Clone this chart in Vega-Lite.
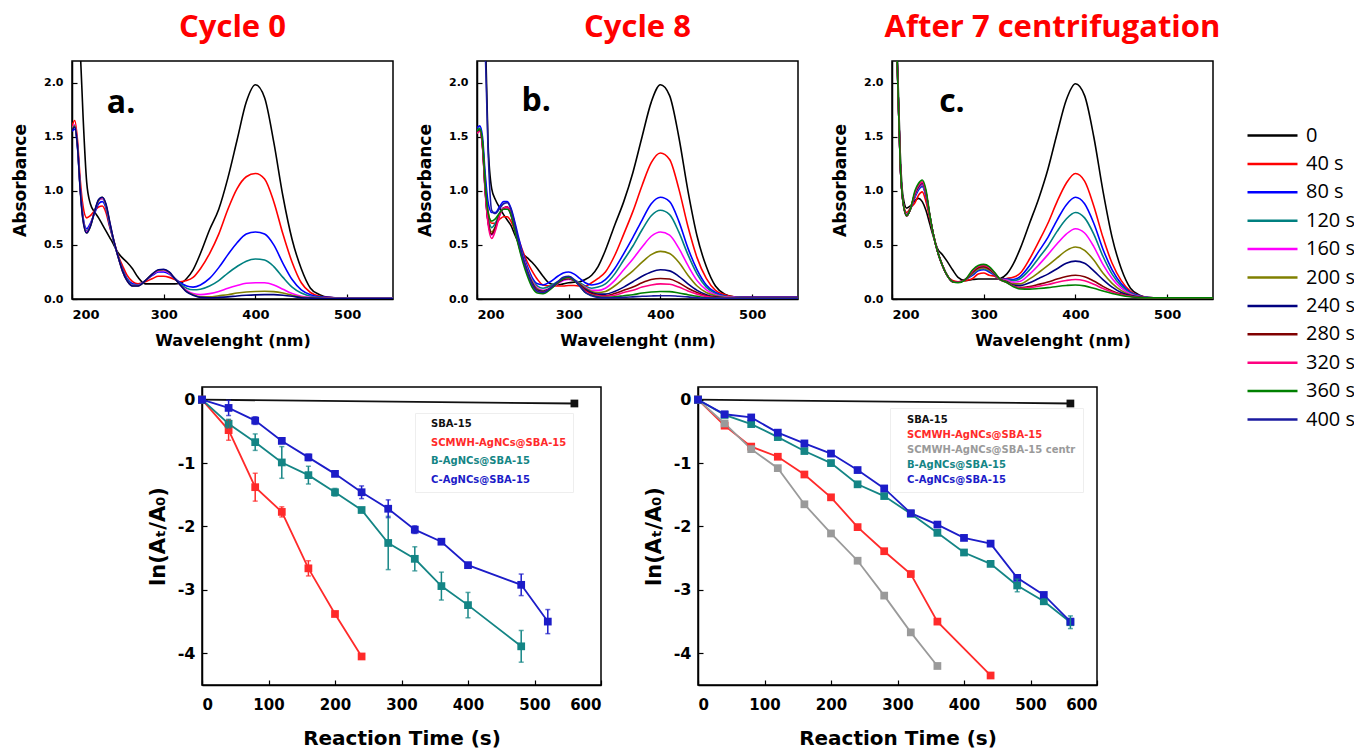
{
"$schema":"https://vega.github.io/schema/vega-lite/v6.json",
"background":"white",
"padding":{"left":10,"top":11,"right":0,"bottom":0},
"config":{"view":{"stroke":"black","strokeWidth":1.5},
"axis":{"grid":false,"tickSize":-5,"tickColor":"black","tickWidth":1.2,"domainColor":"black","domainWidth":1.5,"labelColor":"black","titleColor":"black","labelFont":"DejaVu Sans","labelFontWeight":"bold","titleFont":"DejaVu Sans","titleFontWeight":"bold"},
"legend":{"labelLimit":400}},
"datasets":{
"a":[
{"w":200,"0":3.2,"40 s":1.6,"80 s":1.55,"120 s":1.57,"160 s":1.58,"200 s":1.57,"240 s":1.56},
{"w":203,"0":3.0,"40 s":1.65,"80 s":1.57,"120 s":1.6,"160 s":1.61,"200 s":1.6,"240 s":1.59},
{"w":206,"0":2.7,"40 s":1.47,"80 s":1.4,"120 s":1.42,"160 s":1.43,"200 s":1.42,"240 s":1.41},
{"w":209,"0":2.3,"40 s":1.1,"80 s":1.02,"120 s":1.02,"160 s":1.02,"200 s":1.01,"240 s":1.0},
{"w":212,"0":1.7,"40 s":0.86,"80 s":0.76,"120 s":0.75,"160 s":0.74,"200 s":0.73,"240 s":0.73},
{"w":216,"0":1.08,"40 s":0.75,"80 s":0.65,"120 s":0.63,"160 s":0.62,"200 s":0.61,"240 s":0.61},
{"w":220,"0":0.88,"40 s":0.77,"80 s":0.7,"120 s":0.68,"160 s":0.68,"200 s":0.67,"240 s":0.67},
{"w":225,"0":0.8,"40 s":0.82,"80 s":0.8,"120 s":0.82,"160 s":0.82,"200 s":0.82,"240 s":0.82},
{"w":229,"0":0.75,"40 s":0.85,"80 s":0.88,"120 s":0.91,"160 s":0.91,"200 s":0.91,"240 s":0.92},
{"w":233,"0":0.69,"40 s":0.86,"80 s":0.9,"120 s":0.93,"160 s":0.93,"200 s":0.94,"240 s":0.94},
{"w":237,"0":0.63,"40 s":0.8,"80 s":0.84,"120 s":0.86,"160 s":0.87,"200 s":0.87,"240 s":0.88},
{"w":241,"0":0.57,"40 s":0.67,"80 s":0.68,"120 s":0.7,"160 s":0.71,"200 s":0.71,"240 s":0.72},
{"w":245,"0":0.51,"40 s":0.55,"80 s":0.55,"120 s":0.55,"160 s":0.56,"200 s":0.56,"240 s":0.56},
{"w":250,"0":0.43,"40 s":0.41,"80 s":0.4,"120 s":0.4,"160 s":0.4,"200 s":0.4,"240 s":0.4},
{"w":255,"0":0.38,"40 s":0.31,"80 s":0.28,"120 s":0.27,"160 s":0.26,"200 s":0.26,"240 s":0.26},
{"w":260,"0":0.34,"40 s":0.22,"80 s":0.19,"120 s":0.18,"160 s":0.17,"200 s":0.17,"240 s":0.17},
{"w":266,"0":0.28,"40 s":0.16,"80 s":0.14,"120 s":0.13,"160 s":0.125,"200 s":0.12,"240 s":0.12},
{"w":272,"0":0.2,"40 s":0.14,"80 s":0.13,"120 s":0.13,"160 s":0.125,"200 s":0.12,"240 s":0.12},
{"w":280,"0":0.14,"40 s":0.16,"80 s":0.17,"120 s":0.17,"160 s":0.17,"200 s":0.17,"240 s":0.17},
{"w":288,"0":0.14,"40 s":0.19,"80 s":0.22,"120 s":0.23,"160 s":0.23,"200 s":0.235,"240 s":0.235},
{"w":294,"0":0.14,"40 s":0.21,"80 s":0.25,"120 s":0.26,"160 s":0.26,"200 s":0.265,"240 s":0.27},
{"w":300,"0":0.14,"40 s":0.21,"80 s":0.25,"120 s":0.27,"160 s":0.265,"200 s":0.27,"240 s":0.275},
{"w":306,"0":0.14,"40 s":0.2,"80 s":0.23,"120 s":0.24,"160 s":0.24,"200 s":0.245,"240 s":0.25},
{"w":312,"0":0.14,"40 s":0.18,"80 s":0.19,"120 s":0.19,"160 s":0.19,"200 s":0.19,"240 s":0.19},
{"w":318,"0":0.145,"40 s":0.16,"80 s":0.15,"120 s":0.14,"160 s":0.13,"200 s":0.13,"240 s":0.13},
{"w":325,"0":0.19,"40 s":0.17,"80 s":0.12,"120 s":0.1,"160 s":0.08,"200 s":0.07,"240 s":0.065},
{"w":332,"0":0.27,"40 s":0.2,"80 s":0.11,"120 s":0.085,"160 s":0.05,"200 s":0.04,"240 s":0.035},
{"w":340,"0":0.42,"40 s":0.28,"80 s":0.13,"120 s":0.09,"160 s":0.04,"200 s":0.02,"240 s":0.015},
{"w":350,"0":0.64,"40 s":0.42,"80 s":0.19,"120 s":0.12,"160 s":0.05,"200 s":0.02,"240 s":0.012},
{"w":360,"0":0.83,"40 s":0.6,"80 s":0.29,"120 s":0.17,"160 s":0.07,"200 s":0.03,"240 s":0.015},
{"w":370,"0":1.12,"40 s":0.83,"80 s":0.41,"120 s":0.24,"160 s":0.1,"200 s":0.04,"240 s":0.02},
{"w":380,"0":1.47,"40 s":1.02,"80 s":0.52,"120 s":0.3,"160 s":0.125,"200 s":0.055,"240 s":0.028},
{"w":390,"0":1.82,"40 s":1.13,"80 s":0.6,"120 s":0.35,"160 s":0.145,"200 s":0.065,"240 s":0.034},
{"w":400,"0":1.98,"40 s":1.16,"80 s":0.62,"120 s":0.37,"160 s":0.15,"200 s":0.07,"240 s":0.038},
{"w":410,"0":1.86,"40 s":1.11,"80 s":0.6,"120 s":0.36,"160 s":0.15,"200 s":0.072,"240 s":0.04},
{"w":420,"0":1.45,"40 s":0.9,"80 s":0.5,"120 s":0.3,"160 s":0.13,"200 s":0.068,"240 s":0.04},
{"w":430,"0":0.95,"40 s":0.6,"80 s":0.33,"120 s":0.2,"160 s":0.09,"200 s":0.055,"240 s":0.035},
{"w":440,"0":0.55,"40 s":0.34,"80 s":0.18,"120 s":0.11,"160 s":0.05,"200 s":0.035,"240 s":0.025},
{"w":450,"0":0.28,"40 s":0.15,"80 s":0.085,"120 s":0.055,"160 s":0.025,"200 s":0.018,"240 s":0.012},
{"w":460,"0":0.1,"40 s":0.06,"80 s":0.04,"120 s":0.025,"160 s":0.015,"200 s":0.01,"240 s":0.008},
{"w":470,"0":0.04,"40 s":0.025,"80 s":0.02,"120 s":0.015,"160 s":0.01,"200 s":0.008,"240 s":0.006},
{"w":480,"0":0.015,"40 s":0.015,"80 s":0.015,"120 s":0.01,"160 s":0.008,"200 s":0.006,"240 s":0.005},
{"w":490,"0":0.01,"40 s":0.01,"80 s":0.01,"120 s":0.01,"160 s":0.007,"200 s":0.005,"240 s":0.005},
{"w":500,"0":0.01,"40 s":0.01,"80 s":0.01,"120 s":0.01,"160 s":0.007,"200 s":0.005,"240 s":0.005},
{"w":525,"0":0.01,"40 s":0.01,"80 s":0.01,"120 s":0.01,"160 s":0.007,"200 s":0.005,"240 s":0.005},
{"w":550,"0":0.01,"40 s":0.01,"80 s":0.01,"120 s":0.01,"160 s":0.007,"200 s":0.005,"240 s":0.005}
],
"b":[
{"w":200,"0":3.2,"40 s":1.56,"80 s":1.58,"120 s":1.56,"160 s":1.55,"200 s":1.55,"240 s":1.55,"280 s":1.54,"320 s":1.53,"360 s":1.55,"400 s":3.0},
{"w":203,"0":3.1,"40 s":1.57,"80 s":1.6,"120 s":1.58,"160 s":1.56,"200 s":1.56,"240 s":1.56,"280 s":1.55,"320 s":1.55,"360 s":1.57,"400 s":2.9},
{"w":206,"0":2.9,"40 s":1.45,"80 s":1.5,"120 s":1.45,"160 s":1.42,"200 s":1.43,"240 s":1.42,"280 s":1.41,"320 s":1.4,"360 s":1.45,"400 s":2.7},
{"w":209,"0":2.5,"40 s":1.1,"80 s":1.15,"120 s":1.05,"160 s":1.0,"200 s":1.02,"240 s":1.0,"280 s":1.0,"320 s":0.98,"360 s":1.05,"400 s":2.3},
{"w":212,"0":1.45,"40 s":0.82,"80 s":0.9,"120 s":0.78,"160 s":0.72,"200 s":0.74,"240 s":0.72,"280 s":0.72,"320 s":0.7,"360 s":0.8,"400 s":1.4},
{"w":216,"0":1.02,"40 s":0.7,"80 s":0.8,"120 s":0.66,"160 s":0.59,"200 s":0.62,"240 s":0.6,"280 s":0.6,"320 s":0.56,"360 s":0.72,"400 s":0.82},
{"w":220,"0":0.92,"40 s":0.7,"80 s":0.8,"120 s":0.7,"160 s":0.65,"200 s":0.67,"240 s":0.66,"280 s":0.66,"320 s":0.63,"360 s":0.74,"400 s":0.79},
{"w":225,"0":0.84,"40 s":0.74,"80 s":0.86,"120 s":0.8,"160 s":0.78,"200 s":0.79,"240 s":0.79,"280 s":0.79,"320 s":0.78,"360 s":0.8,"400 s":0.84},
{"w":229,"0":0.78,"40 s":0.76,"80 s":0.9,"120 s":0.84,"160 s":0.84,"200 s":0.84,"240 s":0.84,"280 s":0.84,"320 s":0.84,"360 s":0.83,"400 s":0.88},
{"w":233,"0":0.73,"40 s":0.76,"80 s":0.9,"120 s":0.84,"160 s":0.84,"200 s":0.85,"240 s":0.85,"280 s":0.85,"320 s":0.85,"360 s":0.83,"400 s":0.89},
{"w":237,"0":0.68,"40 s":0.72,"80 s":0.84,"120 s":0.78,"160 s":0.78,"200 s":0.79,"240 s":0.79,"280 s":0.79,"320 s":0.79,"360 s":0.78,"400 s":0.83},
{"w":241,"0":0.6,"40 s":0.64,"80 s":0.72,"120 s":0.66,"160 s":0.65,"200 s":0.66,"240 s":0.66,"280 s":0.65,"320 s":0.65,"360 s":0.64,"400 s":0.7},
{"w":245,"0":0.52,"40 s":0.56,"80 s":0.58,"120 s":0.54,"160 s":0.53,"200 s":0.53,"240 s":0.52,"280 s":0.52,"320 s":0.51,"360 s":0.5,"400 s":0.55},
{"w":250,"0":0.42,"40 s":0.44,"80 s":0.42,"120 s":0.4,"160 s":0.39,"200 s":0.38,"240 s":0.37,"280 s":0.37,"320 s":0.36,"360 s":0.34,"400 s":0.38},
{"w":255,"0":0.38,"40 s":0.34,"80 s":0.3,"120 s":0.28,"160 s":0.27,"200 s":0.26,"240 s":0.25,"280 s":0.24,"320 s":0.23,"360 s":0.21,"400 s":0.25},
{"w":260,"0":0.34,"40 s":0.26,"80 s":0.2,"120 s":0.18,"160 s":0.17,"200 s":0.16,"240 s":0.15,"280 s":0.14,"320 s":0.13,"360 s":0.11,"400 s":0.14},
{"w":266,"0":0.28,"40 s":0.18,"80 s":0.14,"120 s":0.12,"160 s":0.1,"200 s":0.09,"240 s":0.08,"280 s":0.075,"320 s":0.07,"360 s":0.055,"400 s":0.07},
{"w":272,"0":0.21,"40 s":0.13,"80 s":0.13,"120 s":0.1,"160 s":0.08,"200 s":0.075,"240 s":0.07,"280 s":0.065,"320 s":0.06,"360 s":0.05,"400 s":0.06},
{"w":280,"0":0.14,"40 s":0.12,"80 s":0.16,"120 s":0.12,"160 s":0.1,"200 s":0.1,"240 s":0.1,"280 s":0.1,"320 s":0.1,"360 s":0.09,"400 s":0.1},
{"w":288,"0":0.13,"40 s":0.12,"80 s":0.21,"120 s":0.16,"160 s":0.14,"200 s":0.15,"240 s":0.15,"280 s":0.15,"320 s":0.15,"360 s":0.15,"400 s":0.16},
{"w":294,"0":0.14,"40 s":0.12,"80 s":0.24,"120 s":0.18,"160 s":0.17,"200 s":0.18,"240 s":0.18,"280 s":0.185,"320 s":0.19,"360 s":0.19,"400 s":0.2},
{"w":300,"0":0.15,"40 s":0.125,"80 s":0.25,"120 s":0.185,"160 s":0.18,"200 s":0.19,"240 s":0.19,"280 s":0.19,"320 s":0.195,"360 s":0.2,"400 s":0.21},
{"w":306,"0":0.155,"40 s":0.125,"80 s":0.23,"120 s":0.175,"160 s":0.17,"200 s":0.17,"240 s":0.17,"280 s":0.17,"320 s":0.17,"360 s":0.17,"400 s":0.18},
{"w":312,"0":0.16,"40 s":0.12,"80 s":0.19,"120 s":0.15,"160 s":0.14,"200 s":0.14,"240 s":0.13,"280 s":0.13,"320 s":0.12,"360 s":0.12,"400 s":0.12},
{"w":318,"0":0.18,"40 s":0.12,"80 s":0.15,"120 s":0.12,"160 s":0.11,"200 s":0.1,"240 s":0.09,"280 s":0.08,"320 s":0.07,"360 s":0.06,"400 s":0.06},
{"w":325,"0":0.22,"40 s":0.15,"80 s":0.13,"120 s":0.1,"160 s":0.08,"200 s":0.07,"240 s":0.06,"280 s":0.05,"320 s":0.04,"360 s":0.035,"400 s":0.03},
{"w":332,"0":0.3,"40 s":0.19,"80 s":0.14,"120 s":0.11,"160 s":0.08,"200 s":0.06,"240 s":0.045,"280 s":0.035,"320 s":0.03,"360 s":0.02,"400 s":0.015},
{"w":340,"0":0.45,"40 s":0.25,"80 s":0.18,"120 s":0.14,"160 s":0.1,"200 s":0.07,"240 s":0.045,"280 s":0.03,"320 s":0.025,"360 s":0.015,"400 s":0.01},
{"w":350,"0":0.68,"40 s":0.4,"80 s":0.28,"120 s":0.23,"160 s":0.17,"200 s":0.12,"240 s":0.07,"280 s":0.05,"320 s":0.035,"360 s":0.02,"400 s":0.012},
{"w":360,"0":0.9,"40 s":0.6,"80 s":0.42,"120 s":0.36,"160 s":0.27,"200 s":0.19,"240 s":0.11,"280 s":0.08,"320 s":0.06,"360 s":0.03,"400 s":0.015},
{"w":370,"0":1.17,"40 s":0.81,"80 s":0.57,"120 s":0.49,"160 s":0.37,"200 s":0.26,"240 s":0.16,"280 s":0.11,"320 s":0.08,"360 s":0.04,"400 s":0.02},
{"w":380,"0":1.5,"40 s":1.05,"80 s":0.73,"120 s":0.64,"160 s":0.48,"200 s":0.34,"240 s":0.21,"280 s":0.15,"320 s":0.11,"360 s":0.055,"400 s":0.025},
{"w":390,"0":1.82,"40 s":1.26,"80 s":0.88,"120 s":0.77,"160 s":0.58,"200 s":0.41,"240 s":0.25,"280 s":0.18,"320 s":0.13,"360 s":0.065,"400 s":0.028},
{"w":400,"0":1.98,"40 s":1.35,"80 s":0.94,"120 s":0.82,"160 s":0.62,"200 s":0.44,"240 s":0.27,"280 s":0.19,"320 s":0.14,"360 s":0.07,"400 s":0.03},
{"w":410,"0":1.88,"40 s":1.29,"80 s":0.9,"120 s":0.78,"160 s":0.59,"200 s":0.42,"240 s":0.26,"280 s":0.185,"320 s":0.137,"360 s":0.068,"400 s":0.03},
{"w":420,"0":1.5,"40 s":1.02,"80 s":0.72,"120 s":0.62,"160 s":0.47,"200 s":0.34,"240 s":0.21,"280 s":0.15,"320 s":0.11,"360 s":0.055,"400 s":0.025},
{"w":430,"0":1.0,"40 s":0.67,"80 s":0.47,"120 s":0.41,"160 s":0.31,"200 s":0.22,"240 s":0.14,"280 s":0.1,"320 s":0.075,"360 s":0.04,"400 s":0.02},
{"w":440,"0":0.58,"40 s":0.38,"80 s":0.27,"120 s":0.23,"160 s":0.17,"200 s":0.12,"240 s":0.08,"280 s":0.06,"320 s":0.045,"360 s":0.025,"400 s":0.012},
{"w":450,"0":0.3,"40 s":0.19,"80 s":0.13,"120 s":0.11,"160 s":0.085,"200 s":0.06,"240 s":0.04,"280 s":0.03,"320 s":0.022,"360 s":0.012,"400 s":0.008},
{"w":460,"0":0.12,"40 s":0.08,"80 s":0.06,"120 s":0.05,"160 s":0.04,"200 s":0.03,"240 s":0.02,"280 s":0.015,"320 s":0.012,"360 s":0.008,"400 s":0.006},
{"w":470,"0":0.045,"40 s":0.04,"80 s":0.03,"120 s":0.025,"160 s":0.02,"200 s":0.015,"240 s":0.012,"280 s":0.01,"320 s":0.01,"360 s":0.006,"400 s":0.006},
{"w":480,"0":0.02,"40 s":0.02,"80 s":0.015,"120 s":0.015,"160 s":0.015,"200 s":0.012,"240 s":0.01,"280 s":0.01,"320 s":0.01,"360 s":0.006,"400 s":0.006},
{"w":490,"0":0.015,"40 s":0.015,"80 s":0.015,"120 s":0.012,"160 s":0.012,"200 s":0.01,"240 s":0.01,"280 s":0.008,"320 s":0.008,"360 s":0.006,"400 s":0.006},
{"w":500,"0":0.015,"40 s":0.015,"80 s":0.015,"120 s":0.012,"160 s":0.012,"200 s":0.01,"240 s":0.01,"280 s":0.008,"320 s":0.008,"360 s":0.006,"400 s":0.006},
{"w":525,"0":0.015,"40 s":0.015,"80 s":0.015,"120 s":0.012,"160 s":0.012,"200 s":0.01,"240 s":0.01,"280 s":0.008,"320 s":0.008,"360 s":0.006,"400 s":0.006},
{"w":550,"0":0.015,"40 s":0.015,"80 s":0.015,"120 s":0.012,"160 s":0.012,"200 s":0.01,"240 s":0.01,"280 s":0.008,"320 s":0.008,"360 s":0.006,"400 s":0.006}
],
"c":[
{"w":200,"0":3.2,"40 s":3.0,"80 s":3.0,"120 s":3.0,"160 s":3.0,"200 s":3.0,"240 s":3.0,"280 s":3.0,"320 s":3.0,"360 s":3.0},
{"w":203,"0":3.0,"40 s":2.8,"80 s":2.8,"120 s":2.8,"160 s":2.8,"200 s":2.8,"240 s":2.8,"280 s":2.8,"320 s":2.8,"360 s":2.8},
{"w":206,"0":2.2,"40 s":2.1,"80 s":2.1,"120 s":2.1,"160 s":2.1,"200 s":2.1,"240 s":2.1,"280 s":2.1,"320 s":2.1,"360 s":2.1},
{"w":209,"0":1.35,"40 s":1.25,"80 s":1.25,"120 s":1.25,"160 s":1.25,"200 s":1.25,"240 s":1.25,"280 s":1.25,"320 s":1.25,"360 s":1.25},
{"w":212,"0":0.95,"40 s":0.9,"80 s":0.9,"120 s":0.9,"160 s":0.9,"200 s":0.9,"240 s":0.9,"280 s":0.9,"320 s":0.9,"360 s":0.9},
{"w":216,"0":0.84,"40 s":0.8,"80 s":0.78,"120 s":0.77,"160 s":0.77,"200 s":0.77,"240 s":0.77,"280 s":0.77,"320 s":0.77,"360 s":0.77},
{"w":220,"0":0.86,"40 s":0.84,"80 s":0.83,"120 s":0.83,"160 s":0.83,"200 s":0.83,"240 s":0.83,"280 s":0.83,"320 s":0.83,"360 s":0.83},
{"w":225,"0":0.91,"40 s":0.89,"80 s":0.94,"120 s":0.95,"160 s":0.96,"200 s":0.97,"240 s":0.97,"280 s":0.98,"320 s":0.98,"360 s":1.0},
{"w":229,"0":0.93,"40 s":0.96,"80 s":1.01,"120 s":1.02,"160 s":1.03,"200 s":1.04,"240 s":1.04,"280 s":1.05,"320 s":1.05,"360 s":1.07},
{"w":233,"0":0.9,"40 s":0.99,"80 s":1.04,"120 s":1.05,"160 s":1.06,"200 s":1.07,"240 s":1.07,"280 s":1.08,"320 s":1.08,"360 s":1.1},
{"w":237,"0":0.82,"40 s":0.9,"80 s":0.95,"120 s":0.96,"160 s":0.97,"200 s":0.98,"240 s":0.98,"280 s":0.99,"320 s":0.99,"360 s":1.01},
{"w":241,"0":0.7,"40 s":0.75,"80 s":0.78,"120 s":0.78,"160 s":0.78,"200 s":0.78,"240 s":0.78,"280 s":0.78,"320 s":0.78,"360 s":0.79},
{"w":245,"0":0.58,"40 s":0.6,"80 s":0.6,"120 s":0.6,"160 s":0.6,"200 s":0.6,"240 s":0.6,"280 s":0.6,"320 s":0.6,"360 s":0.6},
{"w":250,"0":0.46,"40 s":0.43,"80 s":0.43,"120 s":0.43,"160 s":0.43,"200 s":0.43,"240 s":0.43,"280 s":0.43,"320 s":0.43,"360 s":0.43},
{"w":255,"0":0.41,"40 s":0.31,"80 s":0.31,"120 s":0.31,"160 s":0.31,"200 s":0.31,"240 s":0.31,"280 s":0.31,"320 s":0.31,"360 s":0.31},
{"w":260,"0":0.35,"40 s":0.22,"80 s":0.22,"120 s":0.22,"160 s":0.22,"200 s":0.22,"240 s":0.22,"280 s":0.22,"320 s":0.22,"360 s":0.22},
{"w":266,"0":0.27,"40 s":0.17,"80 s":0.16,"120 s":0.16,"160 s":0.16,"200 s":0.16,"240 s":0.16,"280 s":0.16,"320 s":0.16,"360 s":0.16},
{"w":272,"0":0.2,"40 s":0.16,"80 s":0.155,"120 s":0.155,"160 s":0.155,"200 s":0.155,"240 s":0.155,"280 s":0.155,"320 s":0.155,"360 s":0.15},
{"w":280,"0":0.17,"40 s":0.17,"80 s":0.18,"120 s":0.18,"160 s":0.18,"200 s":0.18,"240 s":0.18,"280 s":0.18,"320 s":0.18,"360 s":0.18},
{"w":288,"0":0.18,"40 s":0.19,"80 s":0.22,"120 s":0.23,"160 s":0.24,"200 s":0.24,"240 s":0.25,"280 s":0.25,"320 s":0.26,"360 s":0.27},
{"w":294,"0":0.185,"40 s":0.23,"80 s":0.26,"120 s":0.27,"160 s":0.28,"200 s":0.28,"240 s":0.29,"280 s":0.29,"320 s":0.3,"360 s":0.31},
{"w":300,"0":0.185,"40 s":0.24,"80 s":0.27,"120 s":0.28,"160 s":0.29,"200 s":0.29,"240 s":0.3,"280 s":0.3,"320 s":0.31,"360 s":0.32},
{"w":306,"0":0.185,"40 s":0.22,"80 s":0.25,"120 s":0.26,"160 s":0.27,"200 s":0.27,"240 s":0.28,"280 s":0.28,"320 s":0.29,"360 s":0.3},
{"w":312,"0":0.185,"40 s":0.21,"80 s":0.22,"120 s":0.225,"160 s":0.23,"200 s":0.23,"240 s":0.235,"280 s":0.235,"320 s":0.24,"360 s":0.245},
{"w":318,"0":0.19,"40 s":0.18,"80 s":0.18,"120 s":0.18,"160 s":0.18,"200 s":0.18,"240 s":0.18,"280 s":0.18,"320 s":0.18,"360 s":0.18},
{"w":325,"0":0.23,"40 s":0.19,"80 s":0.185,"120 s":0.18,"160 s":0.175,"200 s":0.165,"240 s":0.16,"280 s":0.155,"320 s":0.154,"360 s":0.152},
{"w":332,"0":0.32,"40 s":0.2,"80 s":0.18,"120 s":0.17,"160 s":0.155,"200 s":0.14,"240 s":0.13,"280 s":0.12,"320 s":0.12,"360 s":0.115},
{"w":340,"0":0.47,"40 s":0.24,"80 s":0.21,"120 s":0.19,"160 s":0.165,"200 s":0.14,"240 s":0.124,"280 s":0.106,"320 s":0.1,"360 s":0.093},
{"w":350,"0":0.7,"40 s":0.37,"80 s":0.31,"120 s":0.27,"160 s":0.23,"200 s":0.186,"240 s":0.15,"280 s":0.115,"320 s":0.105,"360 s":0.091},
{"w":360,"0":0.93,"40 s":0.53,"80 s":0.44,"120 s":0.38,"160 s":0.315,"200 s":0.245,"240 s":0.19,"280 s":0.135,"320 s":0.118,"360 s":0.097},
{"w":370,"0":1.2,"40 s":0.7,"80 s":0.57,"120 s":0.49,"160 s":0.41,"200 s":0.31,"240 s":0.23,"280 s":0.157,"320 s":0.134,"360 s":0.105},
{"w":380,"0":1.53,"40 s":0.9,"80 s":0.73,"120 s":0.625,"160 s":0.51,"200 s":0.38,"240 s":0.28,"280 s":0.184,"320 s":0.154,"360 s":0.116},
{"w":390,"0":1.84,"40 s":1.07,"80 s":0.87,"120 s":0.74,"160 s":0.6,"200 s":0.447,"240 s":0.33,"280 s":0.208,"320 s":0.171,"360 s":0.125},
{"w":400,"0":1.99,"40 s":1.16,"80 s":0.94,"120 s":0.8,"160 s":0.65,"200 s":0.48,"240 s":0.35,"280 s":0.22,"320 s":0.18,"360 s":0.13},
{"w":410,"0":1.88,"40 s":1.09,"80 s":0.88,"120 s":0.75,"160 s":0.61,"200 s":0.45,"240 s":0.33,"280 s":0.206,"320 s":0.168,"360 s":0.121},
{"w":420,"0":1.5,"40 s":0.86,"80 s":0.7,"120 s":0.6,"160 s":0.485,"200 s":0.36,"240 s":0.26,"280 s":0.166,"320 s":0.136,"360 s":0.099},
{"w":430,"0":1.0,"40 s":0.57,"80 s":0.46,"120 s":0.395,"160 s":0.32,"200 s":0.24,"240 s":0.18,"280 s":0.117,"320 s":0.098,"360 s":0.074},
{"w":440,"0":0.57,"40 s":0.33,"80 s":0.27,"120 s":0.23,"160 s":0.19,"200 s":0.145,"240 s":0.11,"280 s":0.075,"320 s":0.065,"360 s":0.051},
{"w":450,"0":0.28,"40 s":0.17,"80 s":0.14,"120 s":0.12,"160 s":0.1,"200 s":0.078,"240 s":0.06,"280 s":0.045,"320 s":0.039,"360 s":0.033},
{"w":460,"0":0.1,"40 s":0.07,"80 s":0.06,"120 s":0.055,"160 s":0.047,"200 s":0.038,"240 s":0.032,"280 s":0.025,"320 s":0.024,"360 s":0.021},
{"w":470,"0":0.035,"40 s":0.03,"80 s":0.028,"120 s":0.025,"160 s":0.022,"200 s":0.019,"240 s":0.017,"280 s":0.015,"320 s":0.014,"360 s":0.013},
{"w":480,"0":0.012,"40 s":0.015,"80 s":0.014,"120 s":0.013,"160 s":0.012,"200 s":0.011,"240 s":0.011,"280 s":0.01,"320 s":0.01,"360 s":0.01},
{"w":490,"0":0.01,"40 s":0.01,"80 s":0.01,"120 s":0.01,"160 s":0.01,"200 s":0.01,"240 s":0.01,"280 s":0.01,"320 s":0.01,"360 s":0.01},
{"w":500,"0":0.01,"40 s":0.01,"80 s":0.01,"120 s":0.01,"160 s":0.01,"200 s":0.01,"240 s":0.01,"280 s":0.01,"320 s":0.01,"360 s":0.01},
{"w":525,"0":0.01,"40 s":0.01,"80 s":0.01,"120 s":0.01,"160 s":0.01,"200 s":0.01,"240 s":0.01,"280 s":0.01,"320 s":0.01,"360 s":0.01},
{"w":550,"0":0.01,"40 s":0.01,"80 s":0.01,"120 s":0.01,"160 s":0.01,"200 s":0.01,"240 s":0.01,"280 s":0.01,"320 s":0.01,"360 s":0.01}
],
"kd":[
{"s":"SBA-15","t":0,"v":0},{"s":"SBA-15","t":560,"v":-0.06},
{"s":"SCMWH-AgNCs@SBA-15","t":0,"v":0},{"s":"SCMWH-AgNCs@SBA-15","t":40,"v":-0.48,"e":0.16},{"s":"SCMWH-AgNCs@SBA-15","t":80,"v":-1.38,"e":0.22},{"s":"SCMWH-AgNCs@SBA-15","t":120,"v":-1.77,"e":0.08},{"s":"SCMWH-AgNCs@SBA-15","t":160,"v":-2.66,"e":0.12},{"s":"SCMWH-AgNCs@SBA-15","t":200,"v":-3.38,"e":0.03},{"s":"SCMWH-AgNCs@SBA-15","t":240,"v":-4.05,"e":0.02},
{"s":"B-AgNCs@SBA-15","t":0,"v":0},{"s":"B-AgNCs@SBA-15","t":40,"v":-0.38,"e":0.07},{"s":"B-AgNCs@SBA-15","t":80,"v":-0.67,"e":0.13},{"s":"B-AgNCs@SBA-15","t":120,"v":-0.99,"e":0.25},{"s":"B-AgNCs@SBA-15","t":160,"v":-1.19,"e":0.14},{"s":"B-AgNCs@SBA-15","t":200,"v":-1.46,"e":0.06},{"s":"B-AgNCs@SBA-15","t":240,"v":-1.74,"e":0.03},{"s":"B-AgNCs@SBA-15","t":280,"v":-2.26,"e":0.42},{"s":"B-AgNCs@SBA-15","t":320,"v":-2.51,"e":0.19},{"s":"B-AgNCs@SBA-15","t":360,"v":-2.94,"e":0.22},{"s":"B-AgNCs@SBA-15","t":400,"v":-3.24,"e":0.2},{"s":"B-AgNCs@SBA-15","t":480,"v":-3.89,"e":0.25},
{"s":"C-AgNCs@SBA-15","t":0,"v":0},{"s":"C-AgNCs@SBA-15","t":40,"v":-0.13,"e":0.12},{"s":"C-AgNCs@SBA-15","t":80,"v":-0.33,"e":0.06},{"s":"C-AgNCs@SBA-15","t":120,"v":-0.65,"e":0.03},{"s":"C-AgNCs@SBA-15","t":160,"v":-0.91,"e":0.05},{"s":"C-AgNCs@SBA-15","t":200,"v":-1.17,"e":0.03},{"s":"C-AgNCs@SBA-15","t":240,"v":-1.46,"e":0.1},{"s":"C-AgNCs@SBA-15","t":280,"v":-1.72,"e":0.14},{"s":"C-AgNCs@SBA-15","t":320,"v":-2.05,"e":0.06},{"s":"C-AgNCs@SBA-15","t":360,"v":-2.24,"e":0.02},{"s":"C-AgNCs@SBA-15","t":400,"v":-2.61,"e":0.04},{"s":"C-AgNCs@SBA-15","t":480,"v":-2.92,"e":0.17},{"s":"C-AgNCs@SBA-15","t":520,"v":-3.5,"e":0.19}
],
"ke":[
{"s":"SBA-15","t":0,"v":0},{"s":"SBA-15","t":560,"v":-0.06},
{"s":"SCMWH-AgNCs@SBA-15","t":0,"v":0},{"s":"SCMWH-AgNCs@SBA-15","t":40,"v":-0.41},{"s":"SCMWH-AgNCs@SBA-15","t":80,"v":-0.74},{"s":"SCMWH-AgNCs@SBA-15","t":120,"v":-0.9},{"s":"SCMWH-AgNCs@SBA-15","t":160,"v":-1.18},{"s":"SCMWH-AgNCs@SBA-15","t":200,"v":-1.54},{"s":"SCMWH-AgNCs@SBA-15","t":240,"v":-2.01},{"s":"SCMWH-AgNCs@SBA-15","t":280,"v":-2.39},{"s":"SCMWH-AgNCs@SBA-15","t":320,"v":-2.75},{"s":"SCMWH-AgNCs@SBA-15","t":360,"v":-3.5},{"s":"SCMWH-AgNCs@SBA-15","t":440,"v":-4.35},
{"s":"SCMWH-AgNCs@SBA-15 centr","t":0,"v":0},{"s":"SCMWH-AgNCs@SBA-15 centr","t":40,"v":-0.375},{"s":"SCMWH-AgNCs@SBA-15 centr","t":80,"v":-0.78},{"s":"SCMWH-AgNCs@SBA-15 centr","t":120,"v":-1.08},{"s":"SCMWH-AgNCs@SBA-15 centr","t":160,"v":-1.65},{"s":"SCMWH-AgNCs@SBA-15 centr","t":200,"v":-2.11},{"s":"SCMWH-AgNCs@SBA-15 centr","t":240,"v":-2.54},{"s":"SCMWH-AgNCs@SBA-15 centr","t":280,"v":-3.09},{"s":"SCMWH-AgNCs@SBA-15 centr","t":320,"v":-3.67},{"s":"SCMWH-AgNCs@SBA-15 centr","t":360,"v":-4.2},
{"s":"B-AgNCs@SBA-15","t":0,"v":0},{"s":"B-AgNCs@SBA-15","t":40,"v":-0.24},{"s":"B-AgNCs@SBA-15","t":80,"v":-0.385},{"s":"B-AgNCs@SBA-15","t":120,"v":-0.59},{"s":"B-AgNCs@SBA-15","t":160,"v":-0.81},{"s":"B-AgNCs@SBA-15","t":200,"v":-1.0},{"s":"B-AgNCs@SBA-15","t":240,"v":-1.335},{"s":"B-AgNCs@SBA-15","t":280,"v":-1.52},{"s":"B-AgNCs@SBA-15","t":320,"v":-1.8},{"s":"B-AgNCs@SBA-15","t":360,"v":-2.1},{"s":"B-AgNCs@SBA-15","t":400,"v":-2.41},{"s":"B-AgNCs@SBA-15","t":440,"v":-2.59},{"s":"B-AgNCs@SBA-15","t":480,"v":-2.93,"e":0.1},{"s":"B-AgNCs@SBA-15","t":520,"v":-3.18,"e":0.04},{"s":"B-AgNCs@SBA-15","t":560,"v":-3.51,"e":0.1},
{"s":"C-AgNCs@SBA-15","t":0,"v":0},{"s":"C-AgNCs@SBA-15","t":40,"v":-0.23},{"s":"C-AgNCs@SBA-15","t":80,"v":-0.28},{"s":"C-AgNCs@SBA-15","t":120,"v":-0.52},{"s":"C-AgNCs@SBA-15","t":160,"v":-0.69},{"s":"C-AgNCs@SBA-15","t":200,"v":-0.85},{"s":"C-AgNCs@SBA-15","t":240,"v":-1.11},{"s":"C-AgNCs@SBA-15","t":280,"v":-1.4},{"s":"C-AgNCs@SBA-15","t":320,"v":-1.79},{"s":"C-AgNCs@SBA-15","t":360,"v":-1.97},{"s":"C-AgNCs@SBA-15","t":400,"v":-2.18},{"s":"C-AgNCs@SBA-15","t":440,"v":-2.27},{"s":"C-AgNCs@SBA-15","t":480,"v":-2.81},{"s":"C-AgNCs@SBA-15","t":520,"v":-3.08},{"s":"C-AgNCs@SBA-15","t":560,"v":-3.5}
]
},
"spacing":326,
"bounds":"flush",
"resolve":{"scale":{"color":"independent"}},
"vconcat":[
{"spacing":84,"bounds":"flush","hconcat":[
 {"width":321,"height":238,
  "title":{"text":"Cycle 0","color":"#ff0000","font":"Open Sans","fontSize":31,"fontWeight":"bold","anchor":"middle","baseline":"alphabetic","offset":-7},
  "layer":[
   {"data":{"name":"a"},"transform":[{"fold":["0","40 s","80 s","120 s","160 s","200 s","240 s"],"as":["series","A"]}],
    "mark":{"type":"line","strokeWidth":1.6,"clip":true,"interpolate":"monotone"},
    "encoding":{
     "x":{"field":"w","type":"quantitative","scale":{"domain":[200,550],"nice":false},"axis":{"values":[200,300,400,500],"labelFontSize":13,"labelPadding":14,"title":"Wavelenght (nm)","titleFontSize":16,"titlePadding":11}},
     "y":{"field":"A","type":"quantitative","scale":{"domain":[0,2.2],"nice":false},"axis":{"values":[0,0.5,1,1.5,2],"format":".1f","labelFontSize":11,"labelPadding":14,"title":"Absorbance","titleFontSize":17,"titlePadding":14}},
     "color":{"field":"series","type":"nominal","scale":{"domain":["0","40 s","80 s","120 s","160 s","200 s","240 s","280 s","320 s","360 s","400 s"],"range":["#000000","#ff0000","#0000ff","#008080","#ff00ff","#808000","#000080","#800000","#ff0080","#008000","#1a1aa0"]},
      "legend":{"orient":"none","legendX":1189,"legendY":63,"title":null,"symbolType":"M-2.5,0H2.5","symbolSize":400,"symbolStrokeWidth":2.5,"labelFont":"Open Sans","labelFontSize":20,"labelColor":"black","labelOffset":22,"rowPadding":6.4,"padding":0}}
    }},
   {"data":{"values":[{"t":"a."}]},"mark":{"type":"text","font":"Open Sans","fontWeight":"bold","fontSize":32,"align":"left","baseline":"alphabetic","color":"black"},
    "encoding":{"x":{"datum":238,"type":"quantitative"},"y":{"datum":1.72,"type":"quantitative"},"text":{"field":"t"}}}
  ]},
 {"spacing":94,"bounds":"flush","hconcat":[
  {"width":321,"height":238,
   "title":{"text":"Cycle 8","color":"#ff0000","font":"Open Sans","fontSize":31,"fontWeight":"bold","anchor":"middle","baseline":"alphabetic","offset":-7},
   "layer":[
    {"data":{"name":"b"},"transform":[{"fold":["0","40 s","80 s","120 s","160 s","200 s","240 s","280 s","320 s","360 s","400 s"],"as":["series","A"]}],
     "mark":{"type":"line","strokeWidth":1.6,"clip":true,"interpolate":"monotone"},
     "encoding":{
      "x":{"field":"w","type":"quantitative","scale":{"domain":[200,550],"nice":false},"axis":{"values":[200,300,400,500],"labelFontSize":13,"labelPadding":14,"title":"Wavelenght (nm)","titleFontSize":16,"titlePadding":11}},
      "y":{"field":"A","type":"quantitative","scale":{"domain":[0,2.2],"nice":false},"axis":{"values":[0,0.5,1,1.5,2],"format":".1f","labelFontSize":11,"labelPadding":14,"title":"Absorbance","titleFontSize":17,"titlePadding":14}},
      "color":{"field":"series","type":"nominal","scale":{"domain":["0","40 s","80 s","120 s","160 s","200 s","240 s","280 s","320 s","360 s","400 s"],"range":["#000000","#ff0000","#0000ff","#008080","#ff00ff","#808000","#000080","#800000","#ff0080","#008000","#1a1aa0"]},
       "legend":{"orient":"none","legendX":1189,"legendY":63,"title":null,"symbolType":"M-2.5,0H2.5","symbolSize":400,"symbolStrokeWidth":2.5,"labelFont":"Open Sans","labelFontSize":20,"labelColor":"black","labelOffset":22,"rowPadding":6.4,"padding":0}}
     }},
    {"data":{"values":[{"t":"b."}]},"mark":{"type":"text","font":"Open Sans","fontWeight":"bold","fontSize":32,"align":"left","baseline":"alphabetic","color":"black"},
     "encoding":{"x":{"datum":248.6,"type":"quantitative"},"y":{"datum":1.74,"type":"quantitative"},"text":{"field":"t"}}}
   ]},
  {"width":321,"height":238,
   "title":{"text":"After 7 centrifugation","color":"#ff0000","font":"Open Sans","fontSize":31,"fontWeight":"bold","anchor":"middle","baseline":"alphabetic","offset":-7},
   "layer":[
    {"data":{"name":"c"},"transform":[{"fold":["0","40 s","80 s","120 s","160 s","200 s","240 s","280 s","320 s","360 s"],"as":["series","A"]}],
     "mark":{"type":"line","strokeWidth":1.6,"clip":true,"interpolate":"monotone"},
     "encoding":{
      "x":{"field":"w","type":"quantitative","scale":{"domain":[200,550],"nice":false},"axis":{"values":[200,300,400,500],"labelFontSize":13,"labelPadding":14,"title":"Wavelenght (nm)","titleFontSize":16,"titlePadding":11}},
      "y":{"field":"A","type":"quantitative","scale":{"domain":[0,2.2],"nice":false},"axis":{"values":[0,0.5,1,1.5,2],"format":".1f","labelFontSize":11,"labelPadding":14,"title":"Absorbance","titleFontSize":17,"titlePadding":14}},
      "color":{"field":"series","type":"nominal","scale":{"domain":["0","40 s","80 s","120 s","160 s","200 s","240 s","280 s","320 s","360 s","400 s"],"range":["#000000","#ff0000","#0000ff","#008080","#ff00ff","#808000","#000080","#800000","#ff0080","#008000","#1a1aa0"]},
       "legend":{"orient":"none","legendX":1189,"legendY":63,"title":null,"symbolType":"M-2.5,0H2.5","symbolSize":400,"symbolStrokeWidth":2.5,"labelFont":"Open Sans","labelFontSize":20,"labelColor":"black","labelOffset":22,"rowPadding":6.4,"padding":0}}
     }},
    {"data":{"values":[{"t":"c."}]},"mark":{"type":"text","font":"Open Sans","fontWeight":"bold","fontSize":32,"align":"left","baseline":"alphabetic","color":"black"},
     "encoding":{"x":{"datum":251.4,"type":"quantitative"},"y":{"datum":1.73,"type":"quantitative"},"text":{"field":"t"}}}
   ]}
 ]}
]},
{"spacing":97,"bounds":"flush","resolve":{"scale":{"color":"independent"}},"hconcat":[
 {"width":33,"height":298,"view":{"stroke":null},"data":{"values":[]},"mark":{"type":"point","opacity":0}},
 {"width":399,"height":298,
  "encoding":{
   "x":{"field":"t","type":"quantitative","scale":{"domain":[0,600],"nice":false},"axis":{"values":[0,100,200,300,400,500,600],"labelFontSize":15,"labelPadding":17,"title":"Reaction Time (s)","titleFontSize":20,"titlePadding":16}},
   "y":{"field":"v","type":"quantitative","scale":{"domain":[-4.5,0.2],"nice":false},"axis":{"values":[0,-1,-2,-3,-4],"labelExpr":"datum.value == 0 ? '0' : '-' + abs(datum.value)","labelFontSize":16,"labelPadding":12,"title":"ln(Aₜ/A₀)","titleFontSize":21,"titlePadding":9}},
   "color":{"field":"s","type":"nominal","scale":{"domain":["SBA-15","SCMWH-AgNCs@SBA-15","B-AgNCs@SBA-15","C-AgNCs@SBA-15"],"range":["#111111","#ff2a2a","#148585","#1c1cc8"]},
    "legend":{"orient":"none","legendX":213,"legendY":26,"title":null,"fillColor":"#ffffff","strokeColor":"#eeeeee","padding":6,"labelFont":"DejaVu Sans","labelFontWeight":"bold","labelFontSize":10,"symbolSize":0,"symbolOpacity":0,"symbolStrokeWidth":0,"labelOffset":0,"rowPadding":8.7,
     "encode":{"labels":{"update":{"fill":{"signal":"{'SBA-15':'#111111','SCMWH-AgNCs@SBA-15':'#ff2a2a','SCMWH-AgNCs@SBA-15 centr':'#9a9a9a','B-AgNCs@SBA-15':'#148585','C-AgNCs@SBA-15':'#1c1cc8'}[datum.value]"}}}}}}
  },
  "layer":[
   {"data":{"name":"kd"},"mark":{"type":"line","strokeWidth":1.8}},
   {"data":{"name":"kd"},"mark":{"type":"point","shape":"square","filled":true,"size":60,"opacity":1}},
   {"data":{"name":"kd"},"transform":[{"filter":"datum.e > 0"}],"mark":{"type":"errorbar","ticks":true,"thickness":1.5},"encoding":{"yError":{"field":"e"}}},
   {"data":{"values":[{"t":"d."}]},"mark":{"type":"text","font":"Open Sans","fontWeight":"bold","fontSize":28,"align":"left","baseline":"alphabetic","clip":false},
    "encoding":{"x":{"datum":-81,"type":"quantitative"},"y":{"datum":-0.44,"type":"quantitative"},"text":{"field":"t"},"color":{"value":"black"}}}
  ]},
 {"width":399,"height":298,
  "encoding":{
   "x":{"field":"t","type":"quantitative","scale":{"domain":[0,600],"nice":false},"axis":{"values":[0,100,200,300,400,500,600],"labelFontSize":15,"labelPadding":17,"title":"Reaction Time (s)","titleFontSize":20,"titlePadding":16}},
   "y":{"field":"v","type":"quantitative","scale":{"domain":[-4.5,0.2],"nice":false},"axis":{"values":[0,-1,-2,-3,-4],"labelExpr":"datum.value == 0 ? '0' : '-' + abs(datum.value)","labelFontSize":16,"labelPadding":12,"title":"ln(Aₜ/A₀)","titleFontSize":21,"titlePadding":9}},
   "color":{"field":"s","type":"nominal","scale":{"domain":["SBA-15","SCMWH-AgNCs@SBA-15","SCMWH-AgNCs@SBA-15 centr","B-AgNCs@SBA-15","C-AgNCs@SBA-15"],"range":["#111111","#ff2a2a","#9a9a9a","#148585","#1c1cc8"]},
    "legend":{"orient":"none","legendX":192,"legendY":21,"title":null,"fillColor":"#ffffff","strokeColor":"#eeeeee","padding":7,"labelFont":"DejaVu Sans","labelFontWeight":"bold","labelFontSize":10,"symbolSize":0,"symbolOpacity":0,"symbolStrokeWidth":0,"labelOffset":0,"rowPadding":5,
     "encode":{"labels":{"update":{"fill":{"signal":"{'SBA-15':'#111111','SCMWH-AgNCs@SBA-15':'#ff2a2a','SCMWH-AgNCs@SBA-15 centr':'#9a9a9a','B-AgNCs@SBA-15':'#148585','C-AgNCs@SBA-15':'#1c1cc8'}[datum.value]"}}}}}}
  },
  "layer":[
   {"data":{"name":"ke"},"mark":{"type":"line","strokeWidth":1.8}},
   {"data":{"name":"ke"},"mark":{"type":"point","shape":"square","filled":true,"size":60,"opacity":1}},
   {"data":{"name":"ke"},"transform":[{"filter":"datum.e > 0"}],"mark":{"type":"errorbar","ticks":true,"thickness":1.5},"encoding":{"yError":{"field":"e"}}},
   {"data":{"values":[{"t":"e."}]},"mark":{"type":"text","font":"Open Sans","fontWeight":"bold","fontSize":28,"align":"left","baseline":"alphabetic","clip":false},
    "encoding":{"x":{"datum":-92,"type":"quantitative"},"y":{"datum":-0.44,"type":"quantitative"},"text":{"field":"t"},"color":{"value":"black"}}}
  ]}
]}
]
}
